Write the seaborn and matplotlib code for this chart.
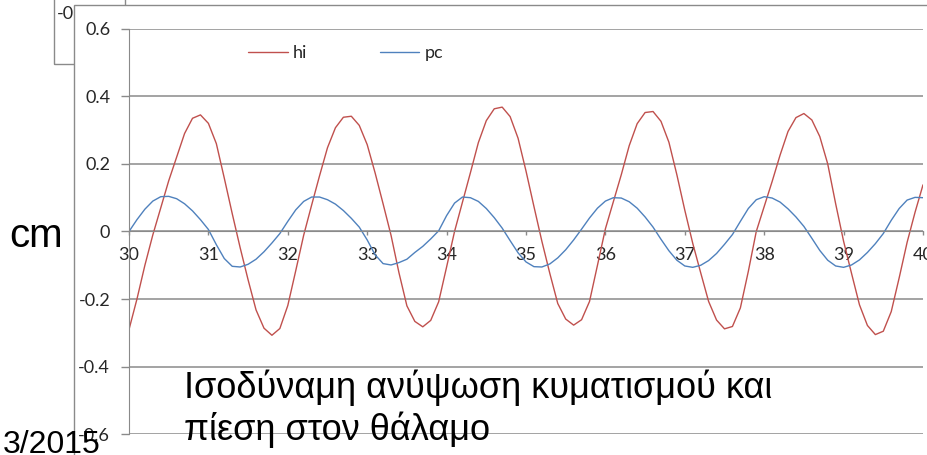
import matplotlib
matplotlib.use('Agg')
from matplotlib import pyplot as plt
from matplotlib.patches import Rectangle
import seaborn as sns
import pandas as pd

t = [30.0, 30.1, 30.2, 30.3, 30.4, 30.5, 30.6, 30.7, 30.8, 30.9,
     31.0, 31.1, 31.2, 31.3, 31.4, 31.5, 31.6, 31.7, 31.8, 31.9,
     32.0, 32.1, 32.2, 32.3, 32.4, 32.5, 32.6, 32.7, 32.8, 32.9,
     33.0, 33.1, 33.2, 33.3, 33.4, 33.5, 33.6, 33.7, 33.8, 33.9,
     34.0, 34.1, 34.2, 34.3, 34.4, 34.5, 34.6, 34.7, 34.8, 34.9,
     35.0, 35.1, 35.2, 35.3, 35.4, 35.5, 35.6, 35.7, 35.8, 35.9,
     36.0, 36.1, 36.2, 36.3, 36.4, 36.5, 36.6, 36.7, 36.8, 36.9,
     37.0, 37.1, 37.2, 37.3, 37.4, 37.5, 37.6, 37.7, 37.8, 37.9,
     38.0, 38.1, 38.2, 38.3, 38.4, 38.5, 38.6, 38.7, 38.8, 38.9,
     39.0, 39.1, 39.2, 39.3, 39.4, 39.5, 39.6, 39.7, 39.8, 39.9,
     40.0]

hi = [-0.290, -0.200, -0.100, -0.010, 0.070, 0.150, 0.220, 0.290, 0.335, 0.345,
      0.320, 0.260, 0.158, 0.053, -0.048, -0.143, -0.232, -0.286, -0.307, -0.287,
      -0.219, -0.116, -0.011, 0.078, 0.165, 0.248, 0.307, 0.338, 0.341, 0.314,
      0.257, 0.173, 0.082, -0.011, -0.122, -0.220, -0.266, -0.282, -0.263, -0.208,
      -0.105, 0.000, 0.087, 0.174, 0.263, 0.328, 0.363, 0.368, 0.340, 0.276,
      0.179, 0.074, -0.029, -0.124, -0.213, -0.259, -0.277, -0.261, -0.207, -0.100,
      0.008, 0.088, 0.168, 0.254, 0.319, 0.352, 0.355, 0.326, 0.264, 0.168,
      0.063, -0.035, -0.122, -0.207, -0.262, -0.288, -0.281, -0.226, -0.118, 0.000,
      0.074, 0.148, 0.226, 0.296, 0.337, 0.349, 0.330, 0.281, 0.200, 0.082,
      -0.029, -0.124, -0.217, -0.278, -0.305, -0.295, -0.237, -0.137, -0.032, 0.057,
      0.138]

pc = [0.000, 0.035, 0.066, 0.090, 0.103, 0.104, 0.097, 0.082, 0.061, 0.035,
      0.006, -0.039, -0.080, -0.103, -0.105, -0.097, -0.082, -0.060, -0.034, -0.006,
      0.030, 0.064, 0.089, 0.102, 0.102, 0.094, 0.081, 0.062, 0.039, 0.013,
      -0.025, -0.069, -0.095, -0.099, -0.092, -0.082, -0.062, -0.044, -0.022, 0.002,
      0.047, 0.084, 0.102, 0.100, 0.089, 0.068, 0.041, 0.010, -0.027, -0.063,
      -0.090, -0.104, -0.105, -0.096, -0.078, -0.054, -0.025, 0.007, 0.040, 0.069,
      0.090, 0.100, 0.099, 0.088, 0.069, 0.043, 0.013, -0.023, -0.057, -0.085,
      -0.102, -0.106, -0.100, -0.086, -0.065, -0.038, -0.009, 0.030, 0.068, 0.094,
      0.103, 0.099, 0.087, 0.067, 0.043, 0.015, -0.020, -0.056, -0.085, -0.102,
      -0.106, -0.099, -0.084, -0.062, -0.036, -0.006, 0.033, 0.068, 0.093, 0.101,
      0.100]

x_ticks = [30, 31, 32, 33, 34, 35, 36, 37, 38, 39, 40]
y_ticks = [-0.6, -0.4, -0.2, 0.0, 0.2, 0.4, 0.6]
y_tick_labels = ['-0.6', '-0.4', '-0.2', '0', '0.2', '0.4', '0.6']

caption = ['Ισοδύναμη ανύψωση κυματισμού και', 'πίεση στον θάλαμο']
unit_label = 'cm'
date_label = '3/2015'

W, H = 928, 455
GRAY = '#8a8a8a'


def fx(px):
    return px / W


def fy(py):
    return 1 - py / H


df = pd.DataFrame({'t': t * 2,
                   'value': hi + pc,
                   'series': ['hi'] * len(hi) + ['pc'] * len(pc)})

sns.set_style('white')
plt.rcParams['font.family'] = ['Lato', 'DejaVu Sans']

fig = plt.figure(figsize=(W / 100, H / 100), dpi=100)
fig.patch.set_facecolor('white')

# the chart lying behind, mostly covered
fig.add_artist(Rectangle((fx(54), fy(64)), fx(125) - fx(54), fy(-5) - fy(64),
                         transform=fig.transFigure, fill=False, ec=GRAY, lw=1, zorder=1))
fig.text(fx(57), fy(14), '-0', ha='left', va='center', fontsize=13,
         color='#262626', zorder=1.5)

# chart area of the front chart
fig.add_artist(Rectangle((fx(74), fy(470)), fx(940) - fx(74), fy(5) - fy(470),
                         transform=fig.transFigure, fc='white', ec=GRAY, lw=1, zorder=2))

ax = fig.add_axes([fx(129), fy(434.3), fx(923) - fx(129), fy(28.7) - fy(434.3)])
ax.set_zorder(3)
ax.patch.set_alpha(0)

sns.lineplot(data=df, x='t', y='value', hue='series',
             palette={'hi': '#C0504D', 'pc': '#4F81BD'},
             linewidth=1.0, errorbar=None, ax=ax)

ax.set_xlim(30, 40)
ax.set_ylim(-0.6, 0.6)
ax.set_xticks(x_ticks)
ax.set_xticklabels([str(v) for v in x_ticks])
ax.set_yticks(y_ticks)
ax.set_yticklabels(y_tick_labels)
ax.set_xlabel('')
ax.set_ylabel('')

ax.grid(axis='y', color=GRAY, lw=1.1)
ax.grid(axis='x', visible=False)
ax.set_axisbelow(True)
for s in ['top', 'right']:
    ax.spines[s].set_visible(False)
ax.spines['left'].set_color(GRAY)
ax.spines['bottom'].set_color(GRAY)
ax.spines['bottom'].set_position(('data', 0))

ax.tick_params(axis='y', direction='out', length=5.5, width=1, color=GRAY,
               pad=8, labelsize=13, labelcolor='#262626', left=True)
ax.tick_params(axis='x', direction='out', length=3, width=1, color=GRAY,
               pad=8.5, labelsize=13, labelcolor='#262626', bottom=True)

sns.move_legend(ax, 'center left', bbox_to_anchor=(fx(248), fy(53)),
                bbox_transform=fig.transFigure, ncol=2, frameon=False, title=None,
                fontsize=13, handlelength=2.2, handletextpad=0.3,
                columnspacing=4.0, borderpad=0, borderaxespad=0)

# slide texts on top
fig.text(fx(9), fy(246.7), unit_label, ha='left', va='baseline', fontsize=29,
         family='Liberation Sans', color='black', zorder=10)
fig.text(fx(184), fy(397.7), caption[0], ha='left', va='baseline', fontsize=26,
         family='Liberation Sans', color='black', zorder=10)
fig.text(fx(184), fy(440), caption[1], ha='left', va='baseline', fontsize=26,
         family='Liberation Sans', color='black', zorder=10)
fig.text(fx(101), fy(453), date_label, ha='right', va='baseline', fontsize=23,
         family='Liberation Sans', color='black', zorder=10)

fig.savefig('out.png', dpi=100)
